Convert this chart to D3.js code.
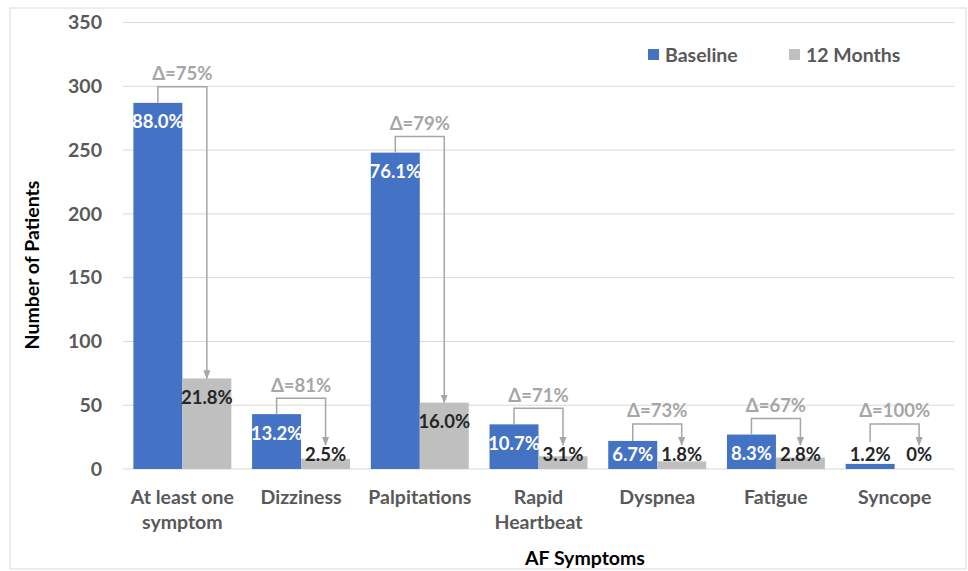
<!DOCTYPE html>
<html>
<head>
<meta charset="utf-8">
<script src="https://cdn.jsdelivr.net/npm/d3@7"></script>
<style>
  body { margin: 0; background: #fff; }
  svg text { font-family: Lato, "Open Sans", sans-serif; font-weight: bold; }
</style>
</head>
<body>
<div id="chart"></div>
<script>
const categories = [["At least one", "symptom"], ["Dizziness"], ["Palpitations"], ["Rapid", "Heartbeat"], ["Dyspnea"], ["Fatigue"], ["Syncope"]];
const baseline = [287, 43, 248, 35, 22, 27, 4];
const months12 = [71, 8, 52, 10, 6, 9, 0];
const baselinePct = ["88.0%", "13.2%", "76.1%", "10.7%", "6.7%", "8.3%", "1.2%"];
const months12Pct = ["21.8%", "2.5%", "16.0%", "3.1%", "1.8%", "2.8%", "0%"];
const deltas = ["Δ=75%", "Δ=81%", "Δ=79%", "Δ=71%", "Δ=73%", "Δ=67%", "Δ=100%"];
const yTicks = [0, 50, 100, 150, 200, 250, 300, 350];

const width = 968, height = 571;
const plotLeft = 123, plotRight = 954, plotTop = 22.5, plotBottom = 469;

const svg = d3.select("#chart").append("svg")
  .attr("width", width).attr("height", height);

// outer frame
svg.append("rect")
  .attr("x", 10).attr("y", 8).attr("width", 956).attr("height", 561)
  .attr("fill", "#fff").attr("stroke", "#d9d9d9").attr("stroke-width", 1);

const x = d3.scaleBand().domain(d3.range(categories.length)).range([plotLeft, plotRight]).paddingInner(0.175).paddingOuter(0.0875);
const y = d3.scaleLinear().domain([0, 350]).range([plotBottom, plotTop]);
const bw = x.bandwidth() / 2;

// grid
svg.append("g").selectAll("line").data(yTicks).join("line")
  .attr("x1", plotLeft).attr("x2", plotRight)
  .attr("y1", d => y(d)).attr("y2", d => y(d))
  .attr("stroke", "#d9d9d9").attr("stroke-width", 1);

// y axis labels
svg.append("g").selectAll("text").data(yTicks).join("text")
  .attr("x", 102).attr("y", d => y(d)).attr("dy", "0.35em")
  .attr("text-anchor", "end").attr("fill", "#595959").style("font-size", "19.5px")
  .text(d => d);

// bars
const groups = svg.append("g").selectAll("g").data(categories).join("g");

groups.append("rect")
  .attr("x", (d, i) => x(i)).attr("width", bw)
  .attr("y", (d, i) => y(baseline[i])).attr("height", (d, i) => y(0) - y(baseline[i]))
  .attr("fill", "#4472c4");

groups.append("rect")
  .attr("x", (d, i) => x(i) + bw).attr("width", bw)
  .attr("y", (d, i) => y(months12[i])).attr("height", (d, i) => y(0) - y(months12[i]))
  .attr("fill", "#bfbfbf");

// value labels (inside end, clamped near the axis)
function labelY(v) { return Math.min(y(v) + 19, y(0) - 14); }

groups.append("text")
  .attr("x", (d, i) => x(i) + bw / 2).attr("y", (d, i) => labelY(baseline[i])).attr("dy", "0.35em")
  .attr("text-anchor", "middle").style("font-size", "18.5px")
  .attr("fill", (d, i) => y(0) - y(baseline[i]) > 15 ? "#fff" : "#262626")
  .text((d, i) => baselinePct[i]);

groups.append("text")
  .attr("x", (d, i) => x(i) + bw * 1.5).attr("y", (d, i) => labelY(months12[i])).attr("dy", "0.35em")
  .attr("text-anchor", "middle").style("font-size", "18.5px").attr("fill", "#262626")
  .text((d, i) => months12Pct[i]);

// delta brackets
svg.append("defs").append("marker")
  .attr("id", "arrow").attr("viewBox", "0 0 10 10").attr("refX", 9).attr("refY", 5)
  .attr("markerWidth", 6).attr("markerHeight", 6).attr("orient", "auto")
  .append("path").attr("d", "M0,1 L10,5 L0,9 Z").attr("fill", "#a6a6a6");

function bracketY(i) { return Math.min(y(baseline[i]) - 16, y(0) - 45); }

groups.append("path")
  .attr("fill", "none").attr("stroke", "#a6a6a6").attr("stroke-width", 1.5)
  .attr("marker-end", "url(#arrow)")
  .attr("d", (d, i) => {
    const x1 = x(i) + bw / 2, x2 = x(i) + bw * 1.5;
    const by = bracketY(i);
    const start = Math.min(y(baseline[i]), y(0) - 27);
    const end = Math.min(y(months12[i]), y(0) - 24);
    return `M${x1},${start}V${by}H${x2}V${end}`;
  });

groups.append("text")
  .attr("x", (d, i) => x(i) + bw).attr("y", (d, i) => bracketY(i) - 13).attr("dy", "0.35em")
  .attr("text-anchor", "middle").attr("fill", "#a6a6a6").style("font-size", "18.5px")
  .text((d, i) => deltas[i]);

// category labels
groups.append("text")
  .attr("text-anchor", "middle").attr("fill", "#595959").style("font-size", "19.5px")
  .selectAll("tspan").data((d, i) => d.map(t => ({ t, i }))).join("tspan")
  .attr("x", d => x(d.i) + bw).attr("y", (d, j) => 497 + j * 25).attr("dy", "0.35em")
  .text(d => d.t);

// axis titles
svg.append("text")
  .attr("transform", "translate(32,265) rotate(-90)").attr("dy", "0.35em")
  .attr("text-anchor", "middle").attr("fill", "#000").style("font-size", "19.5px")
  .text("Number of Patients");

svg.append("text")
  .attr("x", 585).attr("y", 558).attr("dy", "0.35em")
  .attr("text-anchor", "middle").attr("fill", "#000").style("font-size", "19.5px")
  .text("AF Symptoms");

// legend
const legendItems = [["Baseline", "#4472c4", 648], ["12 Months", "#bfbfbf", 789]];
const legend = svg.append("g").selectAll("g").data(legendItems).join("g")
  .attr("transform", d => `translate(${d[2]},55)`);
legend.append("rect").attr("x", 0).attr("y", -6).attr("width", 11).attr("height", 11).attr("fill", d => d[1]);
legend.append("text").attr("x", 17).attr("dy", "0.35em").attr("fill", "#595959").style("font-size", "19.5px")
  .text(d => d[0]);
</script>
</body>
</html>
